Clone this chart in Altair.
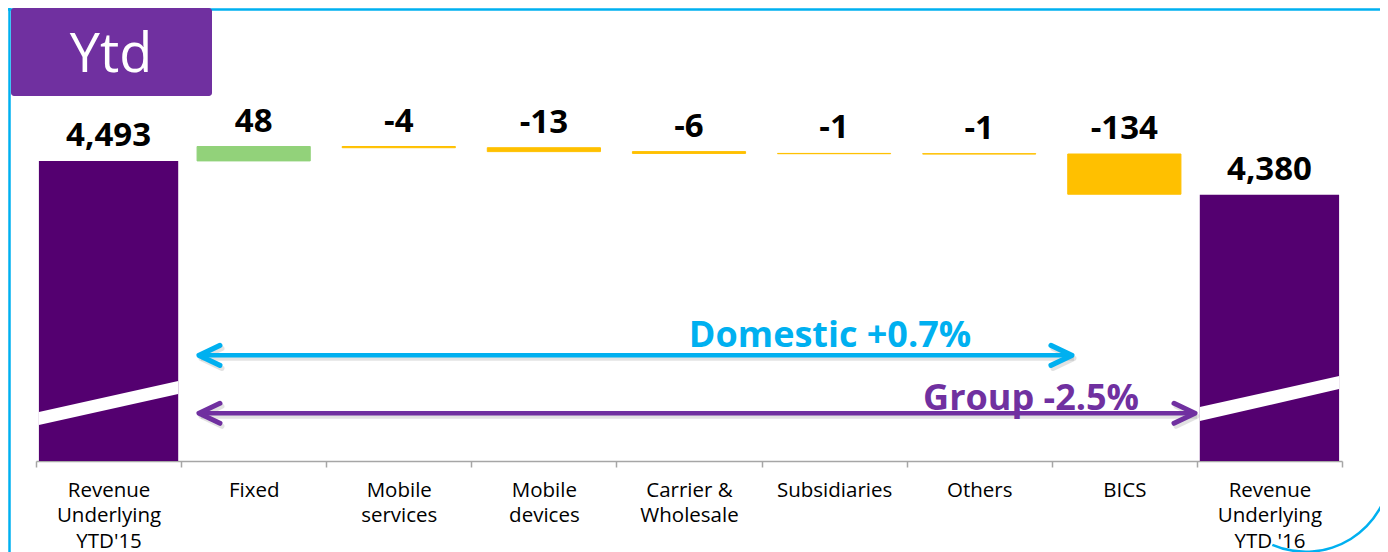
import altair as alt
import pandas as pd

# ---------------- data ----------------
categories = ["Revenue|Underlying|YTD'15", "Fixed", "Mobile|services", "Mobile|devices",
              "Carrier &|Wholesale", "Subsidiaries", "Others", "BICS",
              "Revenue|Underlying|YTD '16"]
values = [4493, 48, -4, -13, -6, -1, -1, -134, 4380]
kinds = ["total", "delta", "delta", "delta", "delta", "delta", "delta", "delta", "total"]
value_labels = ["4,493", "48", "-4", "-13", "-6", "-1", "-1", "-134", "4,380"]

axis_base = 3493   # value at the (broken) axis line
axis_top = 4696

# annotations (arrow spans in category units, levels in data units)
arrow_names = ["Domestic +0.7%", "Group -2.5%"]
arrow_from = [0.623, 0.623]
arrow_to = [6.639, 7.487]
arrow_level = [3845, 3652]
arrow_colors = ["#00B0F0", "#7030A0"]
arrow_text_x = [4.972, 6.357]
arrow_text_y = [3872, 3664]

# axis-break bands on the two total bars
break_group = ["a", "a", "b", "b"]
break_x = [-0.48, 0.48, 7.52, 8.48]
break_lo = [3613, 3716, 3626, 3733]
break_hi = [3656, 3760, 3673, 3776]

TOTAL_C = "#540070"
POS_C = "#92D27A"
NEG_C = "#FFC000"
FONT = "Open Sans"

rows = []
running = 0
for i, (c, v, k, l) in enumerate(zip(categories, values, kinds, value_labels)):
    if k == "total":
        start, end = axis_base, v
        running = v
        col = TOTAL_C
    else:
        start = running
        end = running + v
        running = end
        col = POS_C if v > 0 else NEG_C
    rows.append({"cat": c, "idx": i, "start": start, "end": end,
                 "top": max(start, end), "label": l, "kind": k, "color": col})
df = pd.DataFrame(rows)

arrows = pd.DataFrame({"name": arrow_names, "x0": arrow_from, "x1": arrow_to,
                       "level": arrow_level, "color": arrow_colors,
                       "tx": arrow_text_x, "ty": arrow_text_y})
breaks = pd.DataFrame({"g": break_group, "x": break_x, "lo": break_lo, "hi": break_hi})

yscale = alt.Scale(domain=[axis_base, axis_top], nice=False, zero=False)
xband = alt.Scale(paddingInner=0, paddingOuter=0)
xq = alt.Scale(domain=[-0.5, 8.5], nice=False, zero=False)

base = alt.Chart(df)
xenc = alt.X("cat:N", sort=categories, scale=xband,
             axis=alt.Axis(title=None, labelAngle=0, tickBand="extent",
                           domainColor="#A6A6A6", domainWidth=1.5,
                           tickColor="#A6A6A6", tickWidth=1.5, tickSize=6,
                           labelFont=FONT, labelFontSize=20.5, labelColor="#000000",
                           labelLineHeight=25.5, labelPadding=13,
                           labelExpr="split(datum.label, '|')"))

totals = base.transform_filter("datum.kind == 'total'").mark_bar(
    width={"band": 0.96}).encode(
    x=xenc,
    y=alt.Y("start:Q", scale=yscale, axis=None),
    y2="end:Q",
    color=alt.Color("color:N", scale=None))

deltas = base.transform_filter("datum.kind == 'delta'").mark_bar(
    width={"band": 0.78}, strokeWidth=1).encode(
    x=xenc,
    y=alt.Y("start:Q", scale=yscale, axis=None),
    y2="end:Q",
    color=alt.Color("color:N", scale=None),
    stroke=alt.Stroke("color:N", scale=None))

vlabels = base.mark_text(font=FONT, fontSize=33, fontWeight="bold", color="#000000",
                         baseline="alphabetic", dy=-15).encode(
    x=xenc,
    y=alt.Y("top:Q", scale=yscale, axis=None),
    text="label:N")

band_layer = alt.layer(totals, deltas, vlabels)

# ---- quantitative-x overlay: breaks, arrows, arrow texts ----
qx = lambda f: alt.X(f, scale=xq, axis=None)
qy = lambda f: alt.Y(f, scale=yscale, axis=None)

brk = alt.Chart(breaks).mark_area(color="white", opacity=1).encode(
    x=qx("x:Q"), y=qy("lo:Q"), y2="hi:Q", detail="g:N")

ach = alt.Chart(arrows)
shadow_line = ach.mark_rule(strokeWidth=5, color="#7F7F7F", opacity=0.22,
                            xOffset=2, yOffset=3, x2Offset=2, y2Offset=3).encode(
    x=qx("x0:Q"), x2="x1:Q", y=qy("level:Q"))
line = ach.mark_rule(strokeWidth=4.5).encode(
    x=qx("x0:Q"), x2="x1:Q", y=qy("level:Q"), color=alt.Color("color:N", scale=None))

LEFT = "M2.1,-1L0,0L2.1,1"
RIGHT = "M-2.1,-1L0,0L-2.1,1"
heads = []
for shp, fld in [(LEFT, "x0:Q"), (RIGHT, "x1:Q")]:
    heads.append(ach.mark_point(shape=shp, size=400, filled=False, strokeWidth=5,
                                color="#7F7F7F", opacity=0.22, xOffset=2, yOffset=3,
                                strokeCap="round", strokeJoin="round").encode(
        x=qx(fld), y=qy("level:Q")))
for shp, fld in [(LEFT, "x0:Q"), (RIGHT, "x1:Q")]:
    heads.append(ach.mark_point(shape=shp, size=400, filled=False, strokeWidth=5,
                                opacity=1, strokeCap="round", strokeJoin="round").encode(
        x=qx(fld), y=qy("level:Q"), color=alt.Color("color:N", scale=None)))

atext = ach.mark_text(font=FONT, fontSize=36, fontWeight="bold", align="center",
                      baseline="alphabetic").encode(
    x=qx("tx:Q"), y=qy("ty:Q"), text="name:N", color=alt.Color("color:N", scale=None))

q_layer = alt.layer(brk, shadow_line, *heads[:2], line, *heads[2:], atext)

# ---- decorations (frame, title box) ----
one = alt.Chart(pd.DataFrame({"a": [0]}))
frame_top = one.mark_rule(color="#00B0F0", strokeWidth=2.5).encode(
    x=alt.value(-28), x2=alt.value(1344), y=alt.value(-90.5))
frame_left = one.mark_rule(color="#00B0F0", strokeWidth=2.5).encode(
    x=alt.value(-26.5), y=alt.value(-92), y2=alt.value(452))
arc = one.mark_arc(theta=1.62, theta2=3.55, radius=86, radius2=83.5,
                   color="#00B0F0").encode(x=alt.value(1270), y=alt.value(367))
tbox = one.mark_rect(color="#7030A0", cornerRadius=3).encode(
    x=alt.value(-25), x2=alt.value(176), y=alt.value(-92), y2=alt.value(-4))
ttext = one.mark_text(text="Ytd", font=FONT, fontSize=54, color="white",
                      align="center", baseline="alphabetic").encode(
    x=alt.value(75), y=alt.value(-28))

deco = alt.layer(frame_top, frame_left, arc, tbox, ttext)

chart = alt.layer(band_layer, q_layer, deco).resolve_scale(x="independent").properties(
    width=1306, height=361,
    autosize=alt.AutoSizeParams(type="none"),
    padding={"left": 28, "top": 92, "right": 38, "bottom": 91},
    background="white",
).configure_view(strokeWidth=0)

chart.save("out.html", embed_options={"renderer": "svg", "actions": False})
